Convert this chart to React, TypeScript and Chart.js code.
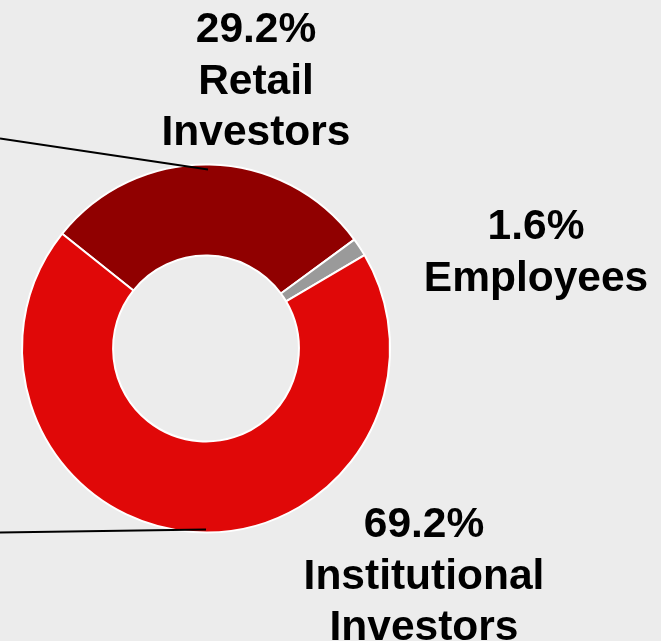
import React, { useEffect, useRef } from "react";
import { Chart, registerables } from "chart.js";

Chart.register(...registerables);

const categories = ["Retail Investors", "Employees", "Institutional Investors"];
const shares = [29.2, 1.6, 69.2];
const colors = ["#900000", "#9a9a9a", "#e00808"];
const labelLines = [
  ["29.2%", "Retail", "Investors"],
  ["1.6%", "Employees"],
  ["69.2%", "Institutional", "Investors"],
];

export default function App() {
  const ref = useRef<HTMLCanvasElement | null>(null);

  useEffect(() => {
    if (!ref.current) return;
    const labelPlugin = {
      id: "outsideLabels",
      afterDraw(chart: any) {
        const ctx = chart.ctx as CanvasRenderingContext2D;
        const meta = chart.getDatasetMeta(0);
        const arc0 = meta.data[0] as any;
        const cx = arc0.x;
        const cy = arc0.y;
        const R = arc0.outerRadius;
        ctx.save();
        ctx.strokeStyle = "#000";
        ctx.lineWidth = 2;
        ctx.beginPath();
        ctx.moveTo(0, 138.5);
        ctx.lineTo(cx + 2, cy - R + 5);
        ctx.stroke();
        ctx.beginPath();
        ctx.moveTo(0, 532.5);
        ctx.lineTo(cx, cy + R - 3);
        ctx.stroke();
        ctx.fillStyle = "#000";
        ctx.font = "bold 42.5px 'Liberation Sans', Arial, sans-serif";
        ctx.textAlign = "center";
        ctx.textBaseline = "alphabetic";
        const positions = [
          { x: 256, y: 42 },
          { x: 536, y: 239 },
          { x: 424, y: 537 },
        ];
        labelLines.forEach((lines, i) => {
          lines.forEach((t, j) => {
            ctx.fillText(t, positions[i].x, positions[i].y + j * 51.5);
          });
        });
        ctx.restore();
      },
    };
    const chart = new Chart(ref.current, {
      type: "doughnut",
      data: {
        labels: categories,
        datasets: [
          {
            data: shares,
            backgroundColor: colors,
            borderColor: "#ffffff",
            borderWidth: 2,
          },
        ],
      },
      options: {
        responsive: false,
        animation: false,
        rotation: -51.4,
        radius: 184,
        cutout: "50.5%",
        layout: { padding: { left: 0, right: 249, top: 56, bottom: 0 } },
        plugins: {
          legend: { display: false },
          tooltip: { enabled: false },
        },
      },
      plugins: [labelPlugin],
    });
    return () => chart.destroy();
  }, []);

  return (
    <div
      style={{
        position: "absolute",
        left: 0,
        top: 0,
        width: 661,
        height: 641,
        background: "#ececec",
      }}
    >
      <canvas ref={ref} width={661} height={641} style={{ display: "block" }} />
    </div>
  );
}
